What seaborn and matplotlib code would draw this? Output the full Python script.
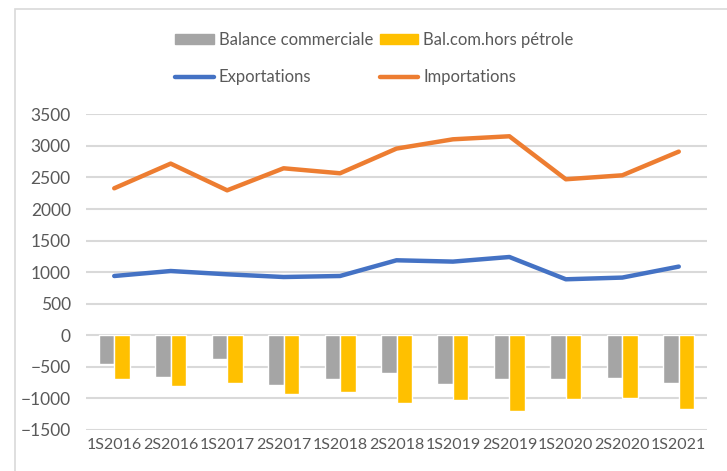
import matplotlib
matplotlib.use('Agg')
import matplotlib.pyplot as plt
from matplotlib.patches import Rectangle
from matplotlib.lines import Line2D
import pandas as pd
import seaborn as sns
import numpy as np

# ---------------------------------------------------------------------
# data
periods = ['1S2016', '2S2016', '1S2017', '2S2017', '1S2018', '2S2018',
           '1S2019', '2S2019', '1S2020', '2S2020', '1S2021']
balance = [-460, -655, -380, -788, -687, -592, -773, -687, -687, -671, -750]
bal_hors_petrole = [-687, -804, -751, -936, -899, -1068, -1032, -1201, -1016, -987, -1164]
exportations = [939, 1018, 966, 923, 939, 1188, 1167, 1240, 887, 914, 1088]
importations = [2328, 2719, 2296, 2645, 2566, 2957, 3104, 3152, 2471, 2534, 2909]

# ---------------------------------------------------------------------
sns.set_style('white')
plt.rcParams['font.family'] = ['Lato', 'DejaVu Sans']
txt = '#595959'

bars = pd.DataFrame({
    'period': periods * 2,
    'value': balance + bal_hors_petrole,
    'serie': ['Balance commerciale'] * len(periods) + ['Bal.com.hors pétrole'] * len(periods),
})
lines = pd.DataFrame({
    'x': list(range(len(periods))) * 2,
    'value': exportations + importations,
    'serie': ['Exportations'] * len(periods) + ['Importations'] * len(periods),
})

fig = plt.figure(figsize=(7.27, 4.71), dpi=100)
ax = fig.add_axes([86 / 727, 1 - 430 / 471, (707 - 86) / 727, (430 - 114.3) / 471])

sns.barplot(data=bars, x='period', y='value', hue='serie', order=periods,
            palette=['#A5A5A5', '#FFC000'], width=0.55, saturation=1,
            ax=ax, legend=False, zorder=3)
sns.lineplot(data=lines, x='x', y='value', hue='serie',
             palette=['#4472C4', '#ED7D31'], linewidth=3.2, ax=ax,
             legend=False, zorder=4)

ax.set_xlim(-0.5, len(periods) - 0.5)
ax.set_ylim(-1500, 3500)
ax.set_yticks(np.arange(-1500, 3501, 500))
ax.set_xticks(range(len(periods)))
ax.set_xticklabels(periods)
ax.set_xlabel('')
ax.set_ylabel('')
ax.yaxis.grid(True, color='#D9D9D9', linewidth=1.5, zorder=0)
ax.set_axisbelow(True)
for s in ax.spines.values():
    s.set_visible(False)
ax.tick_params(axis='y', length=0, pad=11, labelsize=12.5, labelcolor=txt)
ax.tick_params(axis='x', length=0, pad=6, labelsize=11.5, labelcolor=txt)

handles = [
    Rectangle((0, 0), 1, 1, color='#A5A5A5'),
    Line2D([], [], color='#4472C4', linewidth=3.2, solid_capstyle='round'),
    Rectangle((0, 0), 1, 1, color='#FFC000'),
    Line2D([], [], color='#ED7D31', linewidth=3.2, solid_capstyle='round'),
]
labels = ['Balance commerciale', 'Exportations', 'Bal.com.hors pétrole', 'Importations']
fig.legend(handles, labels, ncol=2, loc='center', bbox_to_anchor=(0.515, 1 - 58.5 / 471),
           frameon=False, fontsize=12, labelcolor=txt, handlelength=2.3,
           handleheight=0.5, handletextpad=0.3, columnspacing=0.4, labelspacing=1.25)

# chart frame
fig.patches.append(Rectangle((15 / 727, -0.1), 1.0, 1.1 - 9 / 471, transform=fig.transFigure,
                             fill=False, edgecolor='#D9D9D9', linewidth=1.2))

fig.savefig('out.png', dpi=100)
